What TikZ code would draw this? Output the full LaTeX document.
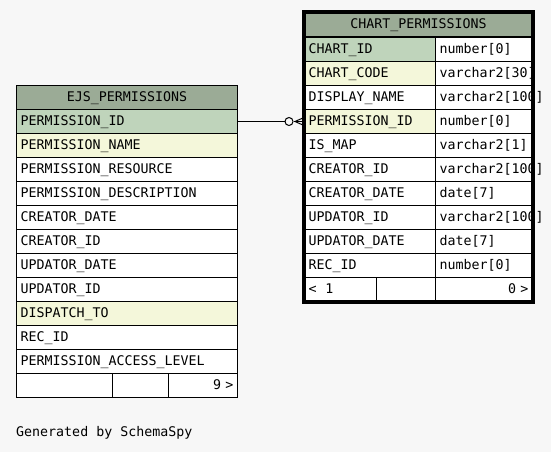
\documentclass[tikz,border=0pt]{standalone}
\usepackage{fontspec}
\setmonofont{DejaVu Sans Mono}
\usepackage{tikz}
\usetikzlibrary{
    positioning,
    calc
}
\definecolor{headGreen}{RGB}{155, 171, 150}
\definecolor{keyGreen}{RGB}{191, 212, 187}
\definecolor{idxYellow}{RGB}{244, 247, 218}
\definecolor{pageGray}{RGB}{247, 247, 247}

\begin{document}
\begin{tikzpicture}[x=1pt, y=-1pt,
    font=\ttfamily\fontsize{13.3}{14}\selectfont,
    cell/.style={draw, line width=1pt, anchor=north west, inner xsep=4pt, inner ysep=0pt,
        minimum height=24pt, text height=10pt, text depth=2.5pt, align=left},
    rcell/.style={cell, align=right}]
        \useasboundingbox (0,0) rectangle (551,452);
        \fill[pageGray] (0,0) rectangle (551,452);

        % EJS_PERMISSIONS
        \node[cell, fill=headGreen, text width=213pt, align=center] (ejs-head) at (16,85) {EJS\_PERMISSIONS};
        \foreach \nm/\clr [count=\i] in {PERMISSION\_ID/keyGreen, PERMISSION\_NAME/idxYellow,
            PERMISSION\_RESOURCE/white, PERMISSION\_DESCRIPTION/white, CREATOR\_DATE/white,
            CREATOR\_ID/white, UPDATOR\_DATE/white, UPDATOR\_ID/white, DISPATCH\_TO/idxYellow,
            REC\_ID/white, PERMISSION\_ACCESS\_LEVEL/white}
            \node[cell, fill=\clr, text width=213pt] (ejs-\i) at (16,{109+24*(\i-1)}) {\nm};
        \node[cell, fill=white, text width=88pt] (ejs-foot-a) at (16,373) {};
        \node[cell, fill=white, text width=48pt] (ejs-foot-b) at (112,373) {};
        \node[rcell, fill=white, text width=61pt] (ejs-foot-c) at (168,373) {9 >};

        % CHART_PERMISSIONS
        \node[cell, fill=headGreen, text width=220pt, align=center] (chart-head) at (304,12) {CHART\_PERMISSIONS};
        \foreach \nm/\tp/\clr [count=\i] in {CHART\_ID/number[0]/keyGreen,
            CHART\_CODE/varchar2[30]/idxYellow, DISPLAY\_NAME/varchar2[100]/white,
            PERMISSION\_ID/number[0]/idxYellow, IS\_MAP/varchar2[1]/white,
            CREATOR\_ID/varchar2[100]/white, CREATOR\_DATE/date[7]/white,
            UPDATOR\_ID/varchar2[100]/white, UPDATOR\_DATE/date[7]/white,
            REC\_ID/number[0]/white}
        {
            \node[cell, fill=\clr, text width=123pt] (chart-\i) at (304,{37+24*(\i-1)}) {\nm};
            \node[cell, fill=white, text width=89pt] (chart-type-\i) at (435,{37+24*(\i-1)}) {\tp};
        }
        \node[cell, fill=white, text width=64pt] (chart-foot-a) at (304,277) {<\ \ 1};
        \node[cell, fill=white, text width=51pt] (chart-foot-b) at (376,277) {};
        \node[rcell, fill=white, text width=89pt] (chart-foot-c) at (435,277) {0 >};
        \draw[line width=3.5pt] (chart-head.north west) rectangle (chart-foot-c.south east);

        % relationship
        \coordinate (fk-end) at (chart-4.west);
        \coordinate (fk-start) at (ejs-1.east |- fk-end);
        \node[draw, circle, line width=1pt, fill=pageGray, minimum size=8pt, inner sep=0pt] (fk-dot) at ($(fk-end)+(-15,0)$) {};
        \draw[line width=1pt] (fk-start) -- (fk-dot.west);
        \draw[line width=1pt] (fk-dot.east) -- (fk-end);
        \draw[line width=1pt] ($(fk-end)+(-9,0)$) -- ($(fk-end)+(0,-4)$);
        \draw[line width=1pt] ($(fk-end)+(-9,0)$) -- ($(fk-end)+(0,4)$);

        \node[anchor=base west, inner sep=0pt] (credit) at (16,436) {Generated by SchemaSpy};
    \end{tikzpicture}
\end{document}
